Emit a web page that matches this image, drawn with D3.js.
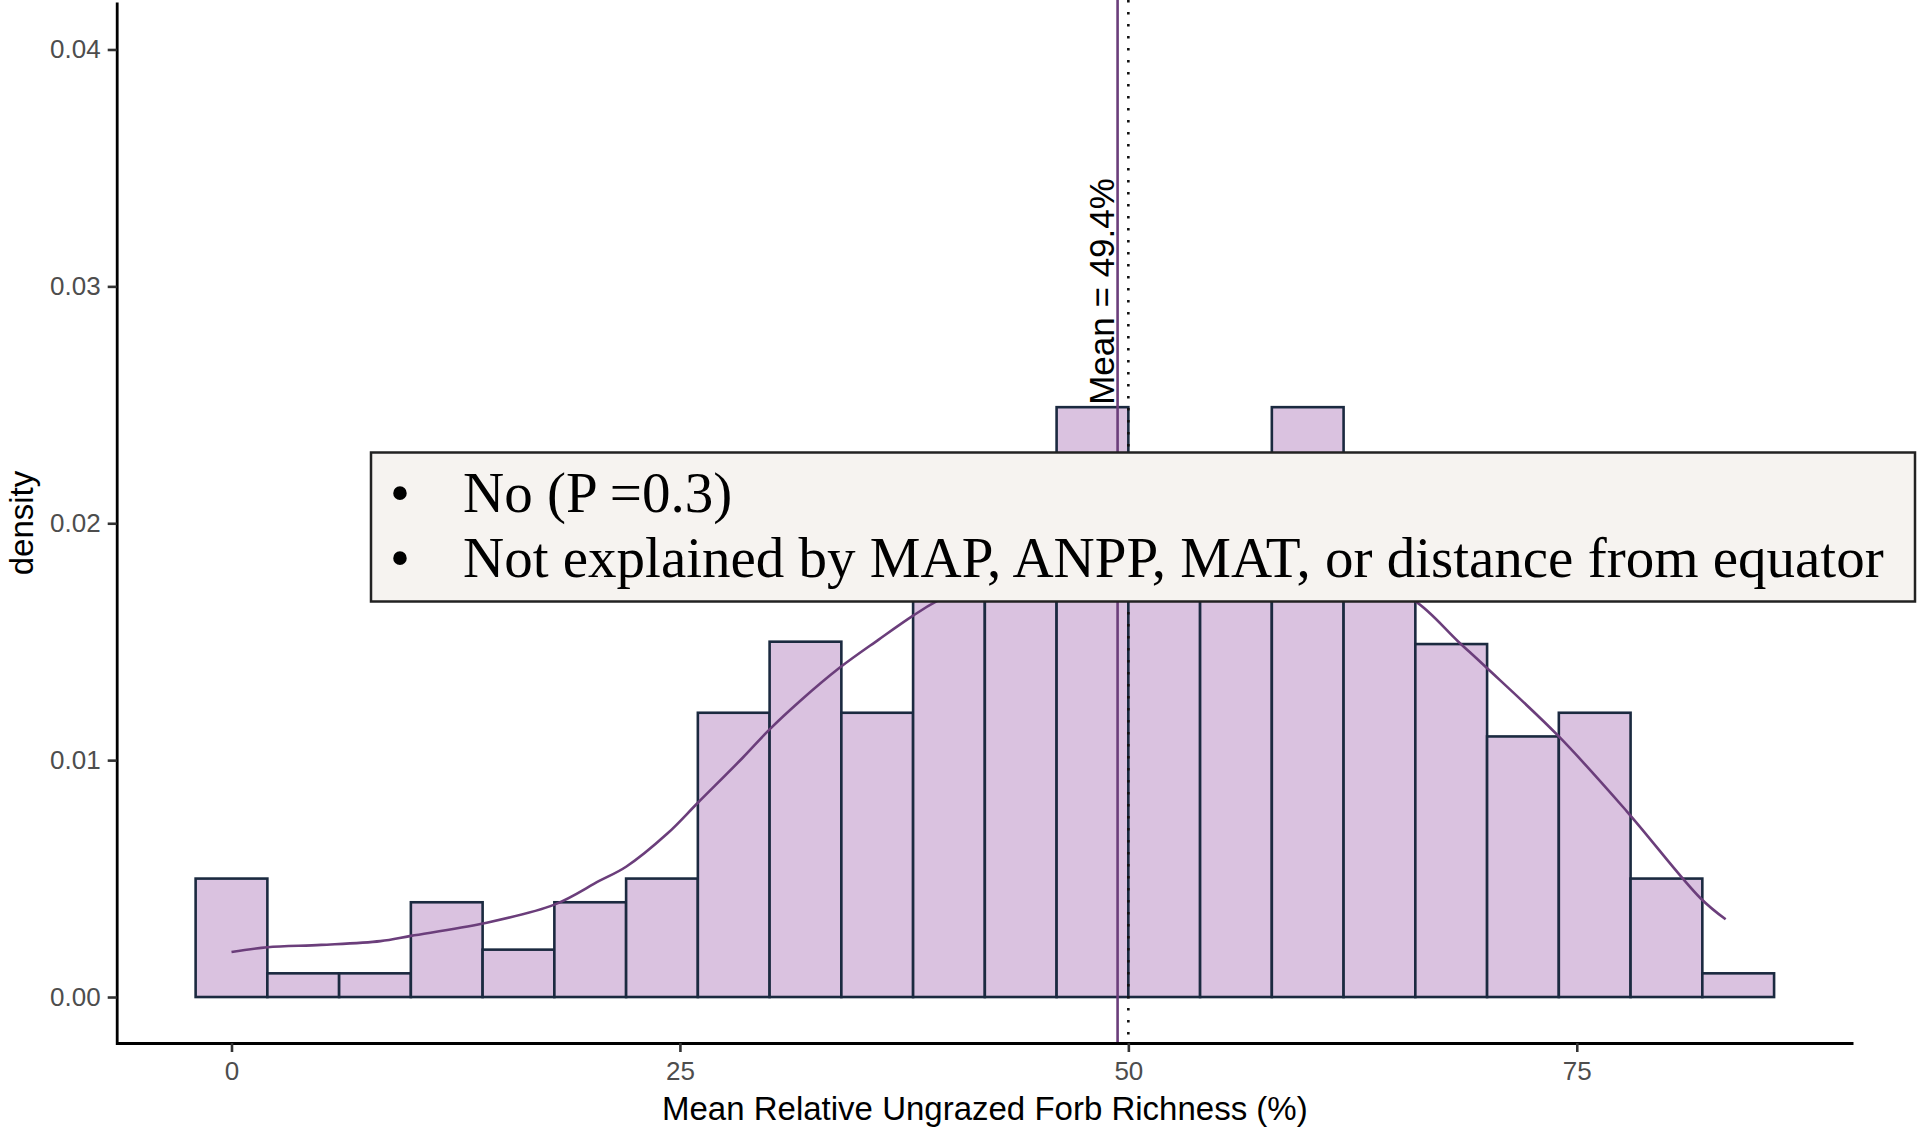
<!DOCTYPE html>
<html>
<head>
<meta charset="utf-8">
<script src="https://cdn.jsdelivr.net/npm/d3@7"></script>
<style>
  body { margin: 0; background: #fff; }
  svg { display: block; font-family: "Liberation Sans", Arial, sans-serif; }
</style>
</head>
<body>
<script>
// histogram bins (left edge, width 4) and their density
var binStarts = [-2, 2, 6, 10, 14, 18, 22, 26, 30, 34, 38, 42, 46, 50, 54, 58, 62, 66, 70, 74, 78, 82];
var binDensity = [0.005, 0.001, 0.001, 0.004, 0.002, 0.004, 0.005, 0.012, 0.015, 0.012, 0.018,
                  0.021, 0.0249, 0.020, 0.019, 0.0249, 0.017, 0.0149, 0.011, 0.012, 0.005, 0.001];
var binWidth = 4;

// fitted curve
var curveX = [0, 2, 5, 8.3, 10, 14, 18, 20.5, 22, 24.3, 26, 28.5, 30, 31.7, 33.9, 36.1, 38, 39.3,
              44, 48, 52, 56, 60, 64, 66, 68.4, 69.9, 74, 77.8, 81.9, 83.3];
var curveY = [0.0019, 0.0021, 0.0022, 0.00236, 0.00258, 0.0031, 0.0039, 0.0049, 0.0055, 0.0069, 0.0082, 0.0101, 0.0113, 0.0125, 0.0139, 0.0151, 0.0161, 0.0167,
              0.0183, 0.0190, 0.0191, 0.0188, 0.0182, 0.0173, 0.0167, 0.0150, 0.01395, 0.0110, 0.00783, 0.00417, 0.00328];

var meanValue = 49.4;
var refValue = 50;
var xTicks = [0, 25, 50, 75];
var yTicks = [0, 0.01, 0.02, 0.03, 0.04];
var noteLines = ["No (P =0.3)", "Not explained by MAP, ANPP, MAT, or distance from equator"];

var width = 1918, height = 1130;

var svg = d3.select("body").append("svg")
    .attr("width", width)
    .attr("height", height);

var x = d3.scaleLinear().domain([-6.4, 90.4]).range([116.7, 1853]);
var y = d3.scaleLinear().domain([-0.002, 0.042]).range([1044.4, 2.1]);

// bars
svg.append("g").selectAll("rect")
    .data(binStarts)
    .enter().append("rect")
    .attr("x", d => x(d))
    .attr("width", d => x(d + binWidth) - x(d))
    .attr("y", (d, i) => y(binDensity[i]))
    .attr("height", (d, i) => y(0) - y(binDensity[i]))
    .attr("fill", "#dac2e0")
    .attr("stroke", "#1b2a40")
    .attr("stroke-width", 2.6);

// curve
var line = d3.line()
    .x(d => x(d[0]))
    .y(d => y(d[1]))
    .curve(d3.curveCatmullRom.alpha(0.5));

svg.append("path")
    .datum(curveX.map((v, i) => [v, curveY[i]]))
    .attr("d", line)
    .attr("fill", "none")
    .attr("stroke", "#6b3e7b")
    .attr("stroke-width", 2.6);

// mean line + reference dotted line
svg.append("line")
    .attr("x1", x(meanValue)).attr("x2", x(meanValue))
    .attr("y1", 0).attr("y2", 1043)
    .attr("stroke", "#6b3e7b")
    .attr("stroke-width", 2.6);

svg.append("line")
    .attr("x1", x(refValue)).attr("x2", x(refValue))
    .attr("y1", 0).attr("y2", 1043)
    .attr("stroke", "#111")
    .attr("stroke-width", 2.6)
    .attr("stroke-dasharray", "2.6,9.4");

svg.append("text")
    .attr("transform", "translate(" + (x(meanValue) - 4) + "," + y(0.025) + ")rotate(-90)")
    .attr("font-size", 35)
    .attr("fill", "#000")
    .text("Mean = " + meanValue + "%");

// axes
var xAxis = svg.append("g")
    .attr("transform", "translate(0,1043)")
    .call(d3.axisBottom(x).tickValues(xTicks).tickSize(9).tickSizeOuter(0).tickPadding(10));

var yAxis = svg.append("g")
    .attr("transform", "translate(116.7,0)")
    .call(d3.axisLeft(y).tickValues(yTicks).tickFormat(d3.format(".2f")).tickSize(9).tickSizeOuter(0).tickPadding(7));

[xAxis, yAxis].forEach(function(a) {
    a.select(".domain").attr("stroke", "#000").attr("stroke-width", 2.8);
    a.selectAll(".tick line").attr("stroke", "#333").attr("stroke-width", 2.6);
    a.selectAll(".tick text")
        .attr("fill", "#4d4d4d")
        .attr("font-size", 26)
        .attr("font-family", "Liberation Sans, Arial, sans-serif");
});

svg.append("text")
    .attr("x", (116.7 + 1853) / 2)
    .attr("y", 1120)
    .attr("text-anchor", "middle")
    .attr("font-size", 33)
    .text("Mean Relative Ungrazed Forb Richness (%)");

svg.append("text")
    .attr("transform", "translate(33," + 523 + ")rotate(-90)")
    .attr("text-anchor", "middle")
    .attr("font-size", 33)
    .text("density");

// note box
var note = svg.append("g");
note.append("rect")
    .attr("x", 371).attr("y", 452.5)
    .attr("width", 1544).attr("height", 149)
    .attr("fill", "#f6f3f0")
    .attr("stroke", "#222")
    .attr("stroke-width", 2.5);

note.selectAll("text.b")
    .data(noteLines)
    .enter().append("text")
    .attr("class", "b")
    .attr("x", 390)
    .attr("y", (d, i) => 512 + i * 65)
    .attr("font-family", "Liberation Serif, Times New Roman, serif")
    .attr("font-size", 57)
    .text("\u2022");

note.selectAll("text.t")
    .data(noteLines)
    .enter().append("text")
    .attr("class", "t")
    .attr("x", 463)
    .attr("y", (d, i) => 512 + i * 65)
    .attr("font-family", "Liberation Serif, Times New Roman, serif")
    .attr("font-size", 57)
    .attr("fill", "#000")
    .text(d => d);
</script>
</body>
</html>
